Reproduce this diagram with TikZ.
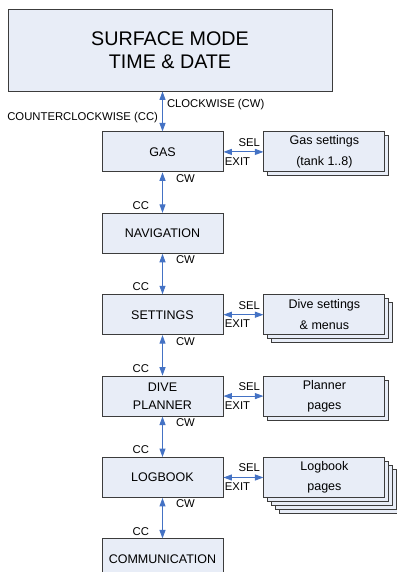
\documentclass[tikz,border=0pt]{standalone}
\usepackage{fontspec}
\setmainfont{Liberation Sans}
\usetikzlibrary{arrows.meta, positioning, shadows}
\definecolor{boxfill}{RGB}{232,237,247}
\definecolor{boxline}{RGB}{60,60,60}
\definecolor{arrowblue}{RGB}{68,114,196}

\begin{document}
\begin{tikzpicture}[
  node distance = 40.5pt and 40pt,
  mode/.style = {
    rectangle, draw=boxline, line width=0.9pt, fill=boxfill,
    minimum width=121pt, minimum height=40pt, inner sep=1pt,
    font=\fontsize{12.5}{18}\selectfont, align=center
  },
  surface/.style = {
    mode, minimum width=324pt, minimum height=82pt,
    font=\fontsize{19.7}{22.5}\selectfont
  },
  pages/.style = {mode, font=\fontsize{12.5}{20.5}\selectfont},
  layers2/.style = {copy shadow={shadow xshift=4pt, shadow yshift=-4pt}},
  layers3/.style = {copy shadow={shadow xshift=8pt, shadow yshift=-8pt}, layers2},
  layers5/.style = {
    copy shadow={shadow xshift=16pt, shadow yshift=-16pt},
    copy shadow={shadow xshift=12pt, shadow yshift=-12pt}, layers3
  },
  lbl/.style = {font=\fontsize{11.3}{13}\selectfont, inner sep=1pt},
  dual/.style = {{Triangle[length=8.5pt,width=6pt]}-{Triangle[length=8.5pt,width=6pt]},
    draw=arrowblue, line width=1pt}
]
\useasboundingbox (0,0) rectangle (396pt,-572pt);
\node[surface] (surf) at (170pt,-50pt) {SURFACE MODE\\TIME \& DATE};
\node[mode, below=40pt of surf, xshift=-7.5pt] (gas) {GAS};
\node[mode, below=of gas]  (nav)  {NAVIGATION};
\node[mode, below=of nav]  (set)  {SETTINGS};
\node[mode, below=of set]  (plan) {DIVE\\PLANNER};
\node[mode, below=of plan] (log)  {LOGBOOK};
\node[mode, below=of log]  (comm) {COMMUNICATION};
\node[pages, layers2, right=of gas]  (gaspg)  {Gas settings\\(tank 1..8)};
\node[pages, layers3, right=of set]  (setpg)  {Dive settings\\\& menus};
\node[pages, layers2, right=of plan] (planpg) {Planner\\pages};
\node[pages, layers5, right=of log]  (logpg)  {Logbook\\pages};
% rotating the knob
\draw[dual] (gas.north |- surf.south) --
  node[lbl, pos=.33, right=3pt] {CLOCKWISE (CW)}
  node[lbl, pos=.66, left=3pt] {COUNTERCLOCKWISE (CC)} (gas.north);
\draw[dual] (gas) -- node[lbl, pos=.15, right=12pt] {CW} node[lbl, pos=.82, left=12pt] {CC} (nav);
\draw[dual] (nav) -- node[lbl, pos=.15, right=12pt] {CW} node[lbl, pos=.82, left=12pt] {CC} (set);
\draw[dual] (set) -- node[lbl, pos=.15, right=12pt] {CW} node[lbl, pos=.82, left=12pt] {CC} (plan);
\draw[dual] (plan) -- node[lbl, pos=.15, right=12pt] {CW} node[lbl, pos=.82, left=12pt] {CC} (log);
\draw[dual] (log) -- node[lbl, pos=.15, right=12pt] {CW} node[lbl, pos=.82, left=12pt] {CC} (comm);
% pressing the knob
\draw[dual] (gas) -- node[lbl, pos=1, above left=4pt and 2pt] {SEL} node[lbl, pos=0, below right=4pt and 0pt] {EXIT} (gaspg);
\draw[dual] (set) -- node[lbl, pos=1, above left=4pt and 2pt] {SEL} node[lbl, pos=0, below right=4pt and 0pt] {EXIT} (setpg);
\draw[dual] (plan) -- node[lbl, pos=1, above left=4pt and 2pt] {SEL} node[lbl, pos=0, below right=4pt and 0pt] {EXIT} (planpg);
\draw[dual] (log) -- node[lbl, pos=1, above left=4pt and 2pt] {SEL} node[lbl, pos=0, below right=4pt and 0pt] {EXIT} (logpg);
\end{tikzpicture}
\end{document}
